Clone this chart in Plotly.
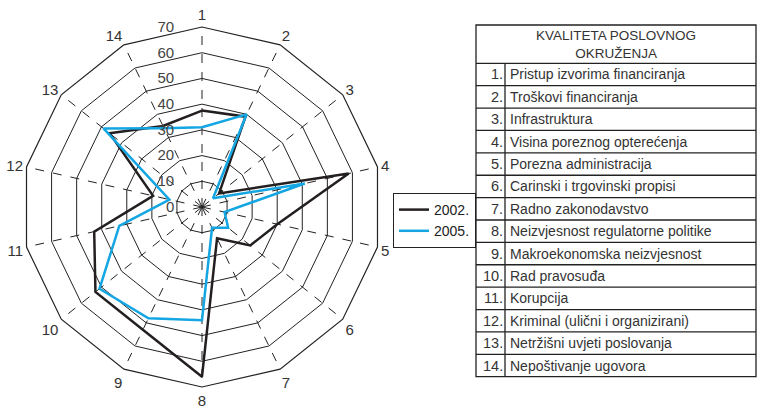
import plotly.graph_objects as go

categories = [str(i) for i in range(1, 15)]
values_2002 = [37.5, 39, 8.5, 58.5, 30, 24, 13.5, 66, 53, 53, 43, 19.5, 46, 35]
values_2005 = [31, 40, 5.5, 41, 9, 13, 9, 44, 48, 51, 33, 13, 49, 34]
series_names = ["2002.", "2005."]
table_title = "KVALITETA POSLOVNOG<br>OKRUŽENJA"
table_labels = [
    "Pristup izvorima financiranja",
    "Troškovi financiranja",
    "Infrastruktura",
    "Visina poreznog opterećenja",
    "Porezna administracija",
    "Carinski i trgovinski propisi",
    "Radno zakonodavstvo",
    "Neizvjesnost regulatorne politike",
    "Makroekonomska neizvjesnost",
    "Rad pravosuđa",
    "Korupcija",
    "Kriminal (ulični i organizirani)",
    "Netržišni uvjeti poslovanja",
    "Nepoštivanje ugovora",
]

W, H = 757, 410
FONT = "Liberation Sans"
TXT = "#333333"

fig = go.Figure()
fig.add_trace(go.Scatterpolar(
    r=values_2002 + values_2002[:1], theta=categories + categories[:1],
    mode="lines", name=series_names[0],
    line=dict(color="#231f20", width=2.5)))
fig.add_trace(go.Scatterpolar(
    r=values_2005 + values_2005[:1], theta=categories + categories[:1],
    mode="lines", name=series_names[1],
    line=dict(color="#13a6e3", width=2.5)))

cx, cy, R = 202, 207, 180
fig.update_layout(
    width=W, height=H,
    margin=dict(l=0, r=0, t=0, b=0, autoexpand=False),
    paper_bgcolor="white",
    font=dict(family=FONT, color=TXT),
    polar=dict(
        domain=dict(x=[(cx - R) / W, (cx + R) / W], y=[1 - (cy + R) / H, 1 - (cy - R) / H]),
        bgcolor="white",
        gridshape="linear",
        radialaxis=dict(range=[0, 70], dtick=10, showline=False, angle=90, tickangle=90,
                        side="counterclockwise", ticksuffix="\u2007\u2007\u2007",
                        gridcolor="#222222", gridwidth=1.2, ticks="",
                        tickfont=dict(size=15, color="#444444", family=FONT)),
        angularaxis=dict(type="category", categoryarray=categories, direction="clockwise",
                         rotation=90, gridcolor="#222222", griddash="dash", gridwidth=1.1,
                         showline=True, linecolor="#222222", linewidth=1.2, ticks="",
                         tickfont=dict(size=15, color="#333333", family=FONT)),
    ),
    legend=dict(x=393 / W, y=1 - 193 / H, xanchor="left", yanchor="top",
                bordercolor="#222222", borderwidth=1, bgcolor="white",
                font=dict(size=14, color="#222222", family=FONT),
                tracegroupgap=0, itemwidth=30),
)

# table
x0, x1, xd = 476, 756, 505
y_top, y_head = 25, 63.3
row_h = (376.7 - y_head) / len(table_labels)
y_bot = y_head + row_h * len(table_labels)

def px(x):
    return x / W

def py(y):
    return 1 - y / H

lc = dict(color="#222222", width=1.3)
fig.add_shape(type="rect", xref="paper", yref="paper", x0=px(x0), x1=px(x1), y0=py(y_bot), y1=py(y_top), line=lc)
fig.add_shape(type="line", xref="paper", yref="paper", x0=px(xd), x1=px(xd), y0=py(y_bot), y1=py(y_head), line=lc)
for i in range(len(table_labels)):
    y = y_head + i * row_h
    fig.add_shape(type="line", xref="paper", yref="paper", x0=px(x0), x1=px(x1), y0=py(y), y1=py(y), line=lc)
fig.add_annotation(xref="paper", yref="paper", x=px(616), y=py((y_top + y_head) / 2), text=table_title,
                   xanchor="center", yanchor="middle",
                   showarrow=False, font=dict(size=13.5, color=TXT, family=FONT), align="center")
for i, lab in enumerate(table_labels):
    yc = y_head + (i + 0.5) * row_h
    fig.add_annotation(xref="paper", yref="paper", x=px(xd), y=py(yc), text=f"{i + 1}.",
                       xanchor="right", yanchor="middle", showarrow=False,
                       font=dict(size=14.5, color=TXT, family=FONT))
    fig.add_annotation(xref="paper", yref="paper", x=px(xd + 3), y=py(yc), text=lab,
                       xanchor="left", yanchor="middle", showarrow=False,
                       font=dict(size=14, color=TXT, family=FONT))

fig.write_html("out.html", config={"displayModeBar": False},
               post_script="document.body.style.margin='0px';")
